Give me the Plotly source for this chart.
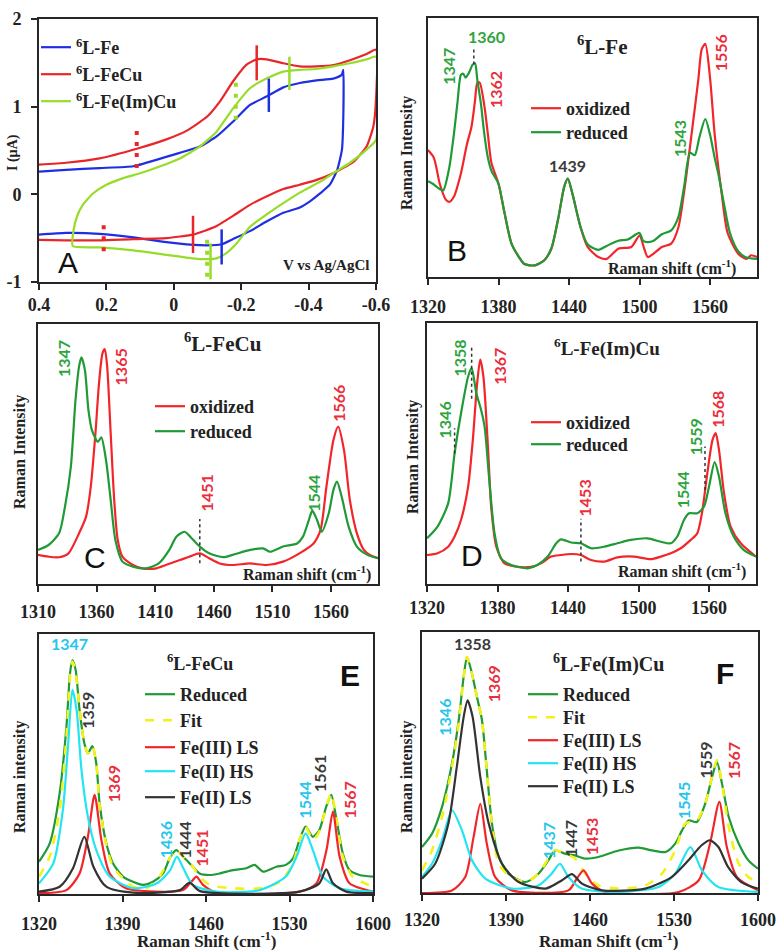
import plotly.graph_objects as go

# ---------------- Panel A : cyclic voltammograms ----------------
a_fe_v = [0.40, 0.32, 0.22, 0.12, 0.02, -0.077, -0.127, -0.176, -0.226, -0.275, -0.325, -0.374, -0.424, -0.473, -0.498, -0.503,
          -0.503, -0.499, -0.485, -0.463, -0.434, -0.404, -0.374, -0.325, -0.275, -0.226, -0.176, -0.142, -0.077, 0.022, 0.12, 0.22, 0.32, 0.40]
a_fe_i = [0.26, 0.28, 0.30, 0.32, 0.43, 0.545, 0.66, 0.83, 1.02, 1.115, 1.22, 1.27, 1.30, 1.32, 1.36, 1.42,
          0.89, 0.51, 0.28, 0.11, 0.01, -0.08, -0.15, -0.21, -0.31, -0.42, -0.51, -0.57, -0.58, -0.545, -0.49, -0.45, -0.44, -0.46]
a_fecu_v = [0.40, 0.32, 0.22, 0.11, 0.02, -0.04, -0.10, -0.137, -0.176, -0.216, -0.246, -0.275, -0.325, -0.374, -0.424, -0.473, -0.523, -0.572, -0.60,
            -0.60, -0.592, -0.572, -0.533, -0.473, -0.424, -0.374, -0.325, -0.275, -0.226, -0.176, -0.127, -0.077, -0.057, 0.022, 0.12, 0.22, 0.32, 0.40]
a_fecu_i = [0.34, 0.36, 0.41, 0.52, 0.63, 0.73, 0.89, 1.06, 1.29, 1.48, 1.54, 1.54, 1.495, 1.46, 1.46, 1.475, 1.53, 1.60, 1.65,
            1.08, 0.77, 0.545, 0.37, 0.24, 0.165, 0.11, 0.06, -0.025, -0.12, -0.245, -0.36, -0.435, -0.46, -0.50, -0.51, -0.525, -0.525, -0.52]
a_feimcu_v = [0.30, 0.297, 0.287, 0.27, 0.24, 0.20, 0.15, 0.10, 0.04, -0.018, -0.077, -0.127, -0.176, -0.226, -0.275, -0.325, -0.374, -0.424, -0.473, -0.523, -0.572, -0.60,
              -0.60, -0.572, -0.523, -0.473, -0.444, -0.374, -0.325, -0.275, -0.226, -0.186, -0.156, -0.127, -0.097, -0.057, 0.022, 0.12, 0.22, 0.30]
a_feimcu_i = [-0.59, -0.40, -0.25, -0.12, 0.01, 0.11, 0.185, 0.24, 0.32, 0.41, 0.545, 0.715, 0.98, 1.21, 1.32, 1.40, 1.42, 1.43, 1.46, 1.495, 1.54, 1.57,
              0.62, 0.51, 0.36, 0.24, 0.165, 0.02, -0.10, -0.23, -0.37, -0.56, -0.67, -0.73, -0.74, -0.73, -0.69, -0.64, -0.605, -0.59]
a_series_names = ["<sup>6</sup>L-Fe", "<sup>6</sup>L-FeCu", "<sup>6</sup>L-Fe(Im)Cu"]
a_mark_v = [-0.282, -0.142, -0.246, -0.057, -0.343, -0.109, -0.184, -0.099, 0.11, 0.208]
a_mark_lo = [0.94, -0.80, 1.30, -0.67, 1.19, -0.97, 0.85, -0.94, 0.30, -0.65]
a_mark_hi = [1.32, -0.40, 1.70, -0.245, 1.57, -0.56, 1.29, -0.49, 0.73, -0.29]
a_mark_series = [0, 0, 1, 1, 2, 2, 2, 2, 1, 1]
a_mark_dash = ['solid', 'solid', 'solid', 'solid', 'solid', 'solid', 'dot', 'dot', 'dot', 'dot']
a_xticks = [0.4, 0.2, 0.0, -0.2, -0.4, -0.6]
a_xticklabels = ["0.4", "0.2", "0", "-0.2", "-0.4", "-0.6"]
a_yticks = [-1, 0, 1, 2]
a_yticklabels = ["-1", "0", "1", "2"]

# ---------------- Panel B : 6L-Fe ----------------
b_ox_x = [1320, 1325, 1330, 1335, 1338, 1342, 1348, 1353, 1357, 1360, 1362, 1364, 1368, 1371, 1374, 1380, 1385, 1391, 1397, 1402,
          1411, 1419, 1425, 1431, 1436, 1439, 1443, 1450, 1456, 1465, 1472, 1482, 1493, 1500, 1504, 1507, 1512, 1519, 1527, 1533,
          1538, 1544, 1550, 1553, 1556, 1560, 1564, 1570, 1575, 1584, 1591, 1595, 1600]
b_ox_y = [49, 46, 36, 30, 29, 31, 40, 51, 58, 68, 75, 75, 66, 55, 44, 36, 25, 13, 8, 5,
          4.5, 6.5, 11, 23, 35, 38, 32, 19, 11.5, 7.7, 7, 10.9, 11.6, 16, 11, 7.7, 9, 11.6, 12.9, 19,
          33, 54, 76, 88, 90, 77, 55, 32, 17, 9, 7, 8.4, 7.7]
b_rd_x = [1320, 1324, 1330, 1333, 1338, 1342, 1345, 1348, 1350, 1352, 1355, 1358, 1360, 1362, 1365, 1368, 1371, 1374, 1380, 1385,
          1391, 1397, 1402, 1411, 1419, 1425, 1431, 1436, 1439, 1443, 1450, 1456, 1465, 1472, 1482, 1490, 1500, 1503, 1507, 1512,
          1519, 1527, 1533, 1538, 1543, 1547, 1551, 1556, 1560, 1564, 1567, 1572, 1577, 1584, 1591, 1600]
b_rd_y = [37, 36, 34, 33.5, 42, 55, 67, 78, 78.5, 77, 79, 82, 82.5, 76, 67, 55, 46, 41, 36, 25,
          13, 8, 5, 4.5, 6.5, 11, 23, 35, 38, 32, 19, 12.5, 10.5, 12, 14, 14.5, 17, 14, 13.5, 14,
          16.5, 18, 23, 35, 48, 47, 54, 61, 55, 46, 40, 28, 17, 10, 7.5, 7]

# ---------------- Panel C : 6L-FeCu ----------------
c_ox_x = [1310, 1319, 1328, 1336, 1345, 1351, 1355, 1359, 1362, 1365, 1367, 1369, 1372, 1375, 1378, 1382, 1391, 1399, 1411, 1419,
          1431, 1439, 1448, 1456, 1465, 1476, 1491, 1505, 1519, 1533, 1545, 1551, 1556, 1562, 1566, 1571, 1576, 1582, 1588, 1593, 1600]
c_ox_y = [11.2, 10.5, 10.3, 11.8, 19.5, 25.9, 37.4, 58, 77, 88.7, 90.3, 83.6, 58, 32.3, 16.9, 10.5, 7.3, 6, 6, 7.3,
          9.2, 10.5, 11.8, 9.9, 7.9, 7.3, 7.9, 7.3, 8.6, 11.8, 15.6, 20.8, 37.4, 55.4, 60.5, 51.5, 32.3, 19.5, 13.1, 11.2, 9.9]
c_rd_x = [1310, 1319, 1328, 1333, 1338, 1342, 1345, 1347, 1350, 1353, 1356, 1361, 1364, 1368, 1372, 1376, 1382, 1391, 1402, 1413,
          1422, 1428, 1435, 1441, 1448, 1456, 1468, 1476, 1491, 1502, 1508, 1519, 1531, 1536, 1541, 1544, 1548, 1552, 1558, 1562,
          1565, 1569, 1575, 1582, 1591, 1600]
c_rd_y = [13.1, 15, 19.5, 29.7, 45, 70.8, 83.6, 87.2, 82.3, 67, 59.2, 54.7, 56.4, 47.7, 32.3, 16.9, 8.6, 6.7, 6, 7.9,
          13.1, 18.2, 20.1, 17.6, 14.4, 11.8, 10.3, 11.2, 13.1, 13.7, 12.4, 14.4, 15.6, 18.2, 24.6, 28.2, 24.6, 20.1, 27.2, 36.2,
          39.4, 33.6, 22, 14.4, 11.2, 9.9]

# ---------------- Panel D : 6L-Fe(Im)Cu ----------------
d_ox_x = [1320, 1329, 1338, 1343.5, 1349, 1355, 1359, 1362.7, 1365.3, 1368, 1372, 1374.6, 1379, 1386, 1397, 1408.6, 1417, 1425.6, 1434, 1442.6,
          1451, 1459.5, 1471, 1482, 1496, 1510.5, 1519, 1527.5, 1536, 1544.5, 1550, 1554, 1558.6, 1563, 1565.7, 1568.5, 1572.8, 1578.4, 1587, 1600]
d_ox_y = [11.1, 11.8, 14.3, 18.2, 24.6, 37.3, 55.2, 77, 86, 79.5, 51.4, 29.7, 14.3, 7.9, 6.6, 6.6, 7.9, 10.5, 11.1, 11.5,
          11.1, 9.2, 8.6, 10.2, 10.5, 9.5, 10.5, 11.8, 13.7, 16.9, 19.4, 27.1, 42.5, 55.2, 57.8, 51.4, 34.8, 22, 15.6, 10.5]
d_rd_x = [1320, 1329, 1338, 1343.5, 1349, 1355, 1358, 1362, 1366, 1369, 1373, 1377.5, 1383, 1391.6, 1405.8, 1414, 1422.7, 1430, 1434, 1442.6,
          1451, 1459.5, 1471, 1482, 1493.5, 1507.7, 1519, 1527.5, 1533, 1538.8, 1543, 1550, 1555.8, 1560, 1564.8, 1568.5, 1574, 1581, 1589.7, 1600]
d_rd_y = [17.5, 22, 30.9, 50.1, 65.5, 79.5, 82.7, 73.1, 66.8, 60.4, 39.9, 19.4, 9.8, 7.3, 6, 7.3, 10.5, 15.6, 17.1, 15.9,
          15.6, 13.7, 14.3, 15.6, 16.9, 17.5, 16.2, 15.6, 18.2, 24.6, 27.1, 27.1, 29.7, 37.3, 46.7, 41.2, 27.1, 18.2, 13, 10.5]

# ---------------- Panel E : 6L-FeCu fit ----------------
e_red_x = [1320, 1329, 1337.3, 1343, 1346, 1348, 1350.7, 1354, 1358, 1361, 1364.7, 1368, 1370.8, 1376.4, 1382, 1390.4, 1398.8, 1407, 1415.5, 1424,
           1429.5, 1435, 1440.7, 1449, 1454.6, 1463, 1471.4, 1482.6, 1493.7, 1500.7, 1507.7, 1519, 1527, 1533, 1538.4, 1543.5, 1549.6, 1555, 1560.8, 1565,
           1569, 1574.7, 1580.3, 1588.7, 1600]
e_red_y = [12.4, 19.5, 38.7, 64.4, 84.9, 90, 86.2, 70.8, 58, 54.1, 56.9, 50.3, 34.9, 19.5, 11.8, 6.7, 4.7, 3.5, 4.7, 7.9,
           13.7, 16.9, 14.4, 10.5, 7.9, 7.3, 7.9, 9.2, 9.9, 11.2, 8.6, 10.5, 11.2, 13.7, 20.8, 25.9, 22, 24.6, 33.6, 38.1,
           29.7, 15.6, 9.2, 7.3, 6.7]
e_fit_x = [1320, 1329, 1337.3, 1343, 1346, 1348, 1350.7, 1354, 1358, 1361, 1364.7, 1368, 1370.8, 1376.4, 1382, 1390.4, 1398.8, 1410, 1421, 1429.5,
           1435, 1440.7, 1449, 1454.6, 1463, 1482.6, 1505, 1522, 1533, 1538.4, 1543.5, 1549.6, 1555, 1560.8, 1565, 1569, 1574.7, 1583, 1600]
e_fit_y = [6.7, 14.4, 32.3, 60.5, 83.6, 89.4, 85.5, 70.8, 58, 54.1, 56.9, 50.3, 34.2, 18.8, 10.5, 6, 2.8, 2.2, 6.7, 13.7,
           17.2, 14.4, 10.5, 6.7, 3.5, 2.2, 2.2, 4.7, 11.8, 20.8, 25.9, 20.8, 24, 33.6, 38.7, 29.7, 14.4, 6.7, 2.8]
e_f3ls_x = [1320, 1343, 1354, 1361, 1366.6, 1372.3, 1379.3, 1393, 1440.7, 1447.7, 1452, 1457.5, 1469, 1538.4, 1552.5, 1561, 1566.4, 1572, 1580.3, 1600]
e_f3ls_y = [0.3, 1.5, 7.9, 22, 38.1, 20.8, 7.9, 2.2, 1.5, 4.7, 6.7, 3.5, 0.5, 0.9, 4.1, 16.9, 31.7, 14.4, 4.1, 0.9]
e_f2hs_x = [1320, 1332, 1340, 1344.5, 1348, 1351.5, 1355.6, 1361, 1368, 1379.3, 1399, 1418.8, 1430, 1435.6, 1441, 1449, 1468.7, 1505, 1527, 1536,
            1543.5, 1549.6, 1558, 1572, 1600]
e_f2hs_y = [4.1, 11.8, 32.3, 58, 78.5, 70.8, 47.7, 29.7, 16.9, 6.7, 2.2, 4.1, 9.2, 14.4, 9.9, 3.5, 0.9, 1.5, 6.7, 14.4,
            23.3, 16.9, 6.7, 2.2, 0.9]
e_f2ls_x = [1320, 1337.3, 1348.5, 1358, 1365.6, 1376.4, 1399, 1438, 1446.3, 1454.6, 1538.4, 1555, 1560.8, 1566.4, 1577.6, 1600]
e_f2ls_y = [0.9, 2.8, 9.9, 22, 10.5, 2.8, 0.5, 1.5, 4.4, 1.2, 0.9, 4.1, 9.5, 4.1, 0.9, 0.3]

# ---------------- Panel F : 6L-Fe(Im)Cu fit ----------------
f_red_x = [1320, 1328.3, 1336.7, 1345, 1350.6, 1354.7, 1357.5, 1361, 1365.8, 1370, 1374, 1378.3, 1384, 1392, 1406, 1417, 1425.3, 1430.8, 1439, 1447.5,
           1456, 1467, 1484, 1500.6, 1511.7, 1523, 1531, 1536.7, 1542.2, 1549, 1556, 1561.7, 1565.8, 1570, 1575.6, 1584, 1592, 1600]
f_red_y = [17.6, 22.7, 33, 49.6, 66.2, 82.8, 90.4, 85.3, 75.1, 66.2, 47, 26.6, 13.8, 7.4, 4.2, 7.4, 12.5, 16.3, 15.1, 14.4,
           13.2, 13.8, 16.3, 17.4, 16.3, 15.7, 18.9, 24, 27.8, 27.2, 34.2, 44.4, 50.2, 41.9, 29.1, 18.9, 12.5, 9.3]
f_fit_x = [1320, 1328.3, 1336.7, 1345, 1350.6, 1354.7, 1357.5, 1361, 1365.8, 1370, 1374, 1378.3, 1384, 1392, 1406, 1417, 1425.3, 1430.8, 1439, 1447.5,
           1456, 1467, 1484, 1506, 1520, 1531, 1539.4, 1549, 1556, 1565.8, 1570, 1575.6, 1584, 1592, 1600]
f_fit_y = [8.7, 16.3, 29.1, 48.3, 64.9, 82.8, 90.4, 85.3, 75.1, 66.2, 47, 26.6, 11.2, 6.8, 4.2, 7.4, 13.2, 16.3, 15.1, 13.2,
           7.4, 2.9, 1.7, 2.9, 7.4, 16.3, 26.6, 27.8, 34.2, 50.8, 41.9, 25.3, 11.2, 6.1, 4.2]
f_f3ls_x = [1320, 1345, 1356, 1363, 1368.6, 1374, 1381, 1395, 1442, 1449, 1454.7, 1461.7, 1472.8, 1534, 1550.6, 1560, 1567.8, 1574, 1582.5, 1600]
f_f3ls_y = [0, 1, 6.1, 21.5, 34.2, 18.9, 6.1, 1, 1, 5.5, 8.7, 3.6, 0.4, 0.4, 4.9, 18.9, 34.9, 17.6, 6.1, 1]
f_f2hs_x = [1320, 1328.3, 1336.7, 1345, 1353.3, 1361.7, 1372.8, 1395, 1417, 1428, 1435, 1442, 1453, 1484, 1517, 1531, 1543.6, 1553.3, 1567, 1600]
f_f2hs_y = [6.1, 11.2, 20.2, 31.7, 24, 12.5, 5.5, 1.7, 2.9, 7.4, 11.2, 6.1, 1.7, 0.4, 2.3, 7.4, 17.6, 8.7, 2.3, 0.4]
f_f2ls_x = [1320, 1331, 1342, 1349, 1354.7, 1358, 1362.2, 1368.6, 1375.6, 1386.7, 1400.6, 1423, 1436.7, 1445, 1453.3, 1470, 1506, 1528, 1542, 1553,
            1560, 1567, 1575, 1586, 1600]
f_f2ls_y = [5.5, 11.2, 26.6, 48.3, 67.4, 73.8, 67.4, 44.4, 26.6, 11.2, 4.2, 1.7, 4.9, 7.2, 3.6, 1, 1.7, 6.1, 12.5, 18.3,
            20.2, 17.6, 10, 4.2, 1.7]

# dashed guide lines (panel, x, ylow, yhigh)
guide_panel = ['B', 'C', 'D', 'D', 'D', 'D']
guide_x = [1359, 1448, 1343.5, 1358, 1451, 1556.6]
guide_lo = [82, 8, 50, 71, 8.6, 36]
guide_hi = [89, 25, 59.7, 91, 25, 52.7]

# peak labels (panel, text, x, y, colour key, rotated)
lab_panel = ['B', 'B', 'B', 'B', 'B', 'B',
             'C', 'C', 'C', 'C', 'C',
             'D', 'D', 'D', 'D', 'D', 'D', 'D',
             'E', 'E', 'E', 'E', 'E', 'E', 'E', 'E', 'E',
             'F', 'F', 'F', 'F', 'F', 'F', 'F', 'F', 'F']
lab_text = ['1347', '1360', '1362', '1439', '1543', '1556',
            '1347', '1365', '1451', '1544', '1566',
            '1346', '1358', '1367', '1453', '1544', '1559', '1568',
            '1347', '1359', '1369', '1436', '1444', '1451', '1544', '1561', '1567',
            '1358', '1346', '1369', '1437', '1447', '1453', '1545', '1559', '1567']
lab_x = [1337.3, 1369.5, 1377.3, 1439, 1534.2, 1569.6,
         1332, 1380.6, 1453.4, 1545, 1566.3,
         1335, 1347.7, 1381.7, 1453.9, 1537.4, 1548.7, 1567,
         1345.7, 1361, 1382, 1426.7, 1442, 1456, 1542.6, 1555.2, 1580.3,
         1361.7, 1338, 1379.7, 1425.6, 1443.6, 1461.7, 1538, 1556, 1579.7]
lab_y = [81.3, 93, 72.3, 43.2, 53.5, 86.5,
         86.8, 83.6, 34.9, 34.9, 69.5,
         62.9, 86.6, 83.4, 32.9, 36.1, 56.5, 66.8,
         96.4, 70.8, 42.6, 20.8, 20.8, 17.6, 36.2, 46.4, 36.2,
         95.5, 67.4, 80.2, 20.2, 20.8, 21.5, 35.5, 50.8, 50.8]
lab_col = ['g', 'g', 'r', 'k', 'g', 'r',
           'g', 'r', 'r', 'g', 'r',
           'g', 'g', 'r', 'r', 'g', 'g', 'r',
           'c', 'k', 'r', 'c', 'k', 'r', 'c', 'k', 'r',
           'k', 'c', 'r', 'c', 'k', 'r', 'c', 'k', 'r']
lab_rot = [1, 0, 1, 0, 1, 1,
           1, 1, 1, 1, 1,
           1, 1, 1, 1, 1, 1, 1,
           0, 1, 1, 1, 1, 1, 1, 1, 1,
           0, 1, 1, 1, 1, 1, 1, 1, 1]

ramantick_b = [1320, 1380, 1440, 1500, 1560]
ramantick_c = [1310, 1360, 1410, 1460, 1510, 1560]
ramantick_ef = [1320, 1390, 1460, 1530, 1600]

# ---------------- styling ----------------
SERIF = "Liberation Serif"
SANS = "Liberation Sans"
LABF = "Lato"
AX = "#262626"
C_BLUE = "#1f2fe0"
C_RED_A = "#e8262a"
C_LIME = "#98dc2a"
C_RED = "#f2262a"
C_GREEN = "#1f9a36"
C_YEL = "#f2f21a"
C_CYAN = "#22e4f2"
C_BLK = "#333333"
TXT = {'g': "#2ea43e", 'r': "#ea2e3c", 'k': "#3a3a3a", 'c': "#26c6ea"}

W, H = 779, 950


def px(x):
    return x / W


def py(y):
    return 1 - y / H


fig = go.Figure()

axmap = {'A': ('x', 'y'), 'B': ('x2', 'y2'), 'C': ('x3', 'y3'),
         'D': ('x4', 'y4'), 'E': ('x5', 'y5'), 'F': ('x6', 'y6')}

# one legend per entry so that each row sits where the reference puts it
legend_layout = {}
leg_counter = [0]
legfont = dict(family=SERIF, size=18, color="#222222", weight='bold')


def new_legend(text_x, center_y):
    leg_counter[0] += 1
    key = 'legend' if leg_counter[0] == 1 else 'legend%d' % leg_counter[0]
    legend_layout[key] = dict(x=px(text_x - 47), y=py(center_y - 14), xref='paper', yref='paper',
                              xanchor='left', yanchor='top', bgcolor='rgba(0,0,0,0)', font=legfont,
                              borderwidth=0)
    return key


def line(panel, x, y, color, name, width=2.2, dash='solid', leg=None, smooth=0.7):
    xa, ya = axmap[panel]
    kw = dict(showlegend=False)
    if leg is not None:
        kw = dict(showlegend=True, legend=new_legend(*leg))
    fig.add_trace(go.Scatter(x=x, y=y, mode='lines', name=name, xaxis=xa, yaxis=ya,
                             line=dict(color=color, width=width, dash=dash, shape='spline', smoothing=smooth),
                             hoverinfo='skip', **kw))


# Panel A
line('A', a_fe_v, a_fe_i, C_BLUE, a_series_names[0], leg=(83, 43), smooth=0.5)
line('A', a_fecu_v, a_fecu_i, C_RED_A, a_series_names[1], leg=(83, 70), smooth=0.5)
line('A', a_feimcu_v, a_feimcu_i, C_LIME, a_series_names[2], leg=(83, 97), smooth=0.5)
a_cols = [C_BLUE, C_RED_A, C_LIME]
for v, lo, hi, s, d in zip(a_mark_v, a_mark_lo, a_mark_hi, a_mark_series, a_mark_dash):
    fig.add_trace(go.Scatter(x=[v, v], y=[lo, hi], mode='lines', xaxis='x', yaxis='y', showlegend=False,
                             line=dict(color=a_cols[s], width=2.5 if d == 'solid' else 4,
                                       dash='solid' if d == 'solid' else '4px,7px'), hoverinfo='skip'))

# Panels B-D
line('B', b_ox_x, b_ox_y, C_RED, "oxidized", leg=(573, 104))
line('B', b_rd_x, b_rd_y, C_GREEN, "reduced", leg=(573, 128))
line('C', c_ox_x, c_ox_y, C_RED, "oxidized", leg=(197, 402))
line('C', c_rd_x, c_rd_y, C_GREEN, "reduced", leg=(197, 427))
line('D', d_ox_x, d_ox_y, C_RED, "oxidized", leg=(573, 418))
line('D', d_rd_x, d_rd_y, C_GREEN, "reduced", leg=(573, 440))

# Panels E-F
line('E', e_red_x, e_red_y, C_GREEN, "Reduced", leg=(187, 690))
line('E', e_fit_x, e_fit_y, C_YEL, "Fit", width=2.6, dash='dash', leg=(187, 716))
line('E', e_f3ls_x, e_f3ls_y, C_RED, "Fe(III) LS", leg=(187, 743))
line('E', e_f2hs_x, e_f2hs_y, C_CYAN, "Fe(II) HS", leg=(187, 767))
line('E', e_f2ls_x, e_f2ls_y, C_BLK, "Fe(II) LS", leg=(187, 793))
line('F', f_red_x, f_red_y, C_GREEN, "Reduced", leg=(570, 690))
line('F', f_fit_x, f_fit_y, C_YEL, "Fit", width=2.6, dash='dash', leg=(570, 713))
line('F', f_f3ls_x, f_f3ls_y, C_RED, "Fe(III) LS", leg=(570, 736))
line('F', f_f2hs_x, f_f2hs_y, C_CYAN, "Fe(II) HS", leg=(570, 759))
line('F', f_f2ls_x, f_f2ls_y, C_BLK, "Fe(II) LS", leg=(570, 782))

for p, gx, lo, hi in zip(guide_panel, guide_x, guide_lo, guide_hi):
    xa, ya = axmap[p]
    fig.add_trace(go.Scatter(x=[gx, gx], y=[lo, hi], mode='lines', xaxis=xa, yaxis=ya, showlegend=False,
                             line=dict(color="#333333", width=1.5, dash='dot'), hoverinfo='skip'))

annotations = []
for p, t, x, y, c, r in zip(lab_panel, lab_text, lab_x, lab_y, lab_col, lab_rot):
    xa, ya = axmap[p]
    annotations.append(dict(text=t, x=x, y=y, xref=xa, yref=ya, showarrow=False,
                            textangle=-90 if r else 0, xanchor='center', yanchor='middle',
                            font=dict(family=LABF, size=16, color=TXT[c], weight='bold')))


def ann(text, x, y, size, family=SERIF, color="#222222", weight='bold', angle=0, xanchor='center', yanchor='middle'):
    annotations.append(dict(text=text, x=px(x), y=py(y), xref='paper', yref='paper', showarrow=False,
                            textangle=angle, xanchor=xanchor, yanchor=yanchor,
                            font=dict(family=family, size=size, color=color, weight=weight)))


# panel titles
ann("<sup>6</sup>L-Fe", 602, 45, 21)
ann("<sup>6</sup>L-FeCu", 223, 343, 21)
ann("<sup>6</sup>L-Fe(Im)Cu", 607, 347, 19)
ann("<sup>6</sup>L-FeCu", 200, 662, 18)
ann("<sup>6</sup>L-Fe(Im)Cu", 608, 663, 20)
# panel letters
ann("A", 68, 262, 30, family=SANS, color="#111111", weight='normal')
ann("B", 457, 251, 30, family=SANS, color="#111111", weight='normal')
ann("C", 95, 557, 30, family=SANS, color="#111111", weight='normal')
ann("D", 472, 555, 30, family=SANS, color="#111111", weight='normal')
ann("E", 350, 675, 30, family=SANS, color="#111111", weight='bold')
ann("F", 725, 673, 30, family=SANS, color="#111111", weight='bold')
# axis titles
ann("I (µA)", 13, 153, 14, angle=-90)
ann("V vs Ag/AgCl", 371, 265, 15, xanchor='right')
ann("Raman Intensity", 407, 153, 16, angle=-90)
ann("Raman shift (cm<sup>-1</sup>)", 738, 267, 16, xanchor='right')
ann("Raman Intensity", 20, 452, 16, angle=-90)
ann("Raman shift (cm<sup>-1</sup>)", 373, 573, 16, xanchor='right')
ann("Raman Intensity", 413, 457, 16, angle=-90)
ann("Raman shift (cm<sup>-1</sup>)", 748, 570, 16, xanchor='right')
ann("Raman intensity", 20, 777, 16, angle=-90)
ann("Raman Shift (cm<sup>-1</sup>)", 207, 940, 17)
ann("Raman intensity", 407, 777, 16, angle=-90)
ann("Raman Shift (cm<sup>-1</sup>)", 608, 940, 17)

tickfont = dict(family=SERIF, size=18, color="#222222", weight='bold')


def xax(dom, anchor, rng, tv, tt=None, standoff=0):
    d = dict(domain=[px(dom[0]), px(dom[1])], anchor=anchor, range=rng, tickvals=tv,
             showline=True, mirror=True, linecolor=AX, linewidth=2, ticks='outside', ticklen=6,
             tickwidth=1.5, tickcolor=AX, tickfont=tickfont, showgrid=False, zeroline=False,
             ticklabelstandoff=standoff, automargin=False)
    if tt is not None:
        d['ticktext'] = tt
    return d


def yax(dom, anchor, rng=(0, 100)):
    return dict(domain=[py(dom[1]), py(dom[0])], anchor=anchor, range=list(rng),
                showline=True, mirror=True, linecolor=AX, linewidth=2, ticks='',
                showticklabels=False, showgrid=False, zeroline=False, automargin=False)


ya = yax((19, 282), 'x', (-1, 2))
ya.update(ticks='outside', ticklen=6, tickwidth=1.5, tickcolor=AX, showticklabels=True,
          tickvals=a_yticks, ticktext=a_yticklabels, tickfont=tickfont, ticklabelstandoff=6)

fig.update_layout(
    width=W, height=H, margin=dict(l=0, r=0, t=0, b=0, pad=0, autoexpand=False), autosize=False,
    paper_bgcolor='white', plot_bgcolor='white',
    xaxis=xax((39, 376), 'y', [0.4, -0.6], a_xticks, a_xticklabels, standoff=-1),
    yaxis=ya,
    xaxis2=xax((428, 757), 'y2', [1320, 1600], ramantick_b, standoff=6),
    yaxis2=yax((18, 277), 'x2'),
    xaxis3=xax((38, 378), 'y3', [1310, 1600], ramantick_c, standoff=4),
    yaxis3=yax((324, 584), 'x3'),
    xaxis4=xax((427, 756), 'y4', [1320, 1600], ramantick_b, standoff=0),
    yaxis4=yax((323, 584), 'x4'),
    xaxis5=xax((39, 373), 'y5', [1320, 1600], ramantick_ef, standoff=6),
    yaxis5=yax((634, 894), 'x5'),
    xaxis6=xax((422, 758), 'y6', [1320, 1600], ramantick_ef, standoff=3),
    yaxis6=yax((632, 893), 'x6'),
    annotations=annotations,
    showlegend=True,
)
fig.update_layout(**legend_layout)

fig.write_html("out.html", include_plotlyjs=True,
               post_script="document.body.style.margin='0px';document.documentElement.style.margin='0px';")
